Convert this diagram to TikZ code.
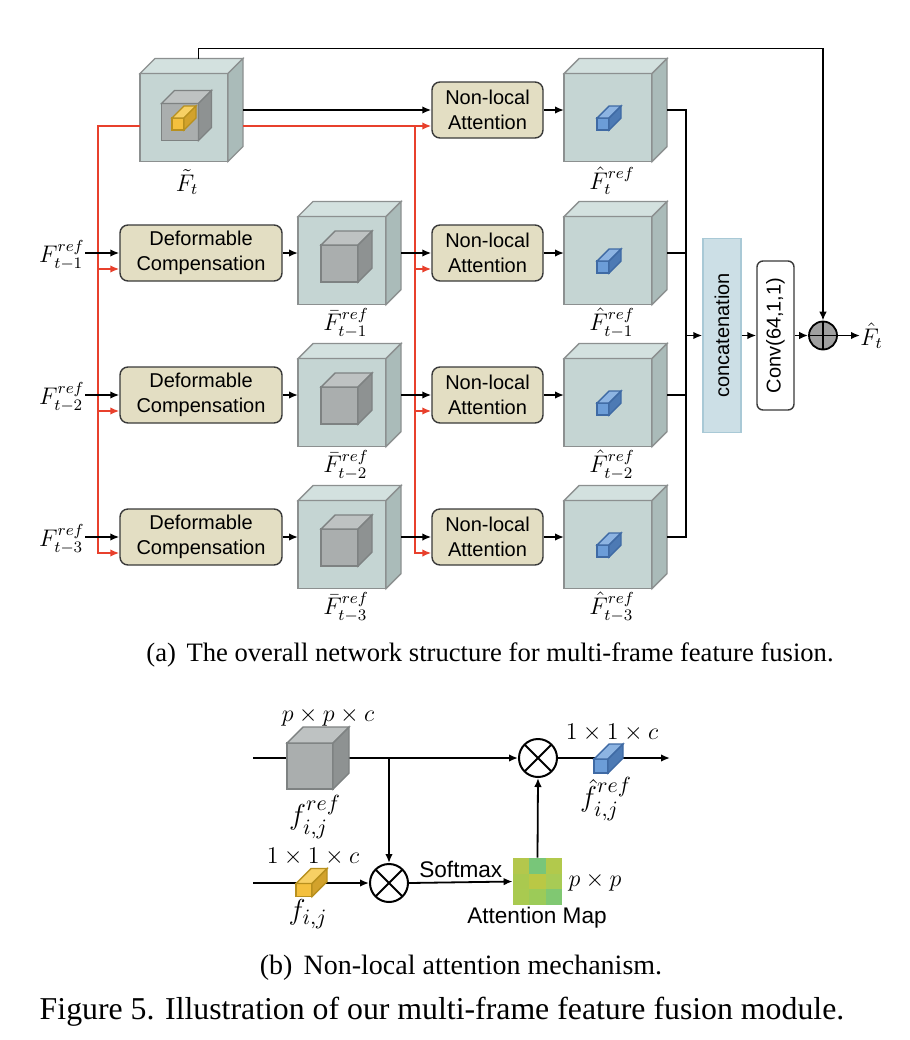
\documentclass[tikz,border=0pt]{standalone}
\usepackage{amsmath}
\usepackage{amssymb}
\usepackage{fontspec}
\setmainfont{Liberation Serif}
\setsansfont{Liberation Sans}
\usetikzlibrary{positioning, arrows.meta, calc}

\definecolor{boxfill}{HTML}{E3DEC3}
\definecolor{boxline}{HTML}{3A3A3A}
\definecolor{redline}{HTML}{E8402C}
\definecolor{cubefront}{HTML}{C5D5D3}
\definecolor{cubetop}{HTML}{D3E1DF}
\definecolor{cubeside}{HTML}{AABBB9}
\definecolor{cubeline}{HTML}{8C9090}
\definecolor{grayfront}{HTML}{AAAEAE}
\definecolor{graytop}{HTML}{BEC2C2}
\definecolor{grayside}{HTML}{8E9292}
\definecolor{grayline}{HTML}{7E8282}
\definecolor{yellowfront}{HTML}{F4C03E}
\definecolor{yellowtop}{HTML}{F7D064}
\definecolor{yellowside}{HTML}{D2A22C}
\definecolor{yellowline}{HTML}{B8901E}
\definecolor{bluefront}{HTML}{6C9DD8}
\definecolor{bluetop}{HTML}{8DB4E2}
\definecolor{blueside}{HTML}{4D7AB4}
\definecolor{blueline}{HTML}{3F6AA4}
\definecolor{catfill}{HTML}{CCDFE6}
\definecolor{catline}{HTML}{A9C9D6}
\definecolor{sumfill}{HTML}{A0A0A0}

% feature cube: name, centre, front width, front height, depth, colour family
\newcommand{\featcube}[6]{%
  \node[minimum width={(#3+#5)*0.5pt}, minimum height={(#4+#5)*0.5pt}, inner sep=0pt, outer sep=0pt] (#1) at #2 {};
  \draw[draw=#6line, line width=0.7pt, fill=#6front] (#1.south west) rectangle ++(#3,-#4);
  \draw[draw=#6line, line width=0.7pt, fill=#6top] ($(#1.south west)+(0,-#4)$) -- ++(#5,-#5) -- ++(#3,0) -- ++(-#5,#5) -- cycle;
  \draw[draw=#6line, line width=0.7pt, fill=#6side] ($(#1.south west)+(#3,0)$) -- ++(#5,-#5) -- ++(0,-#4) -- ++(-#5,#5) -- cycle;
}

\tikzset{
  unit/.style={draw=boxline, fill=boxfill, line width=0.7pt, rounded corners=4pt, align=center, inner sep=0pt,
    font=\sffamily\fontsize{10}{12.5}\selectfont},
  dcbox/.style={unit, minimum width=81pt, minimum height=28pt},
  nlbox/.style={unit, minimum width=55.5pt, minimum height=28pt},
  flow/.style={-{Latex[length=4.5pt,width=3.8pt]}, line width=0.9pt},
  plain/.style={line width=0.9pt},
  redflow/.style={flow, draw=redline},
  mathlbl/.style={font=\fontsize{11.5}{13}\selectfont, inner sep=0pt},
  mathlblb/.style={font=\fontsize{11.5}{13}\selectfont, inner sep=1pt},
  fname/.style={font=\fontsize{15}{17}\selectfont, inner sep=0pt},
  sanslbl/.style={font=\sffamily\fontsize{11.3}{13}\selectfont, inner sep=1pt},
  otimes/.style={circle, draw, line width=1pt, minimum size=19pt, inner sep=0pt,
    path picture={\draw[line width=1pt] (path picture bounding box.north west) -- (path picture bounding box.south east)
      (path picture bounding box.north east) -- (path picture bounding box.south west);}},
  oplus/.style={circle, draw, fill=sumfill, line width=0.9pt, minimum size=14pt, inner sep=0pt,
    path picture={\draw[line width=0.9pt] (path picture bounding box.north) -- (path picture bounding box.south)
      (path picture bounding box.west) -- (path picture bounding box.east);}},
}

\begin{document}
\begin{tikzpicture}[x=0.5pt, y=-0.5pt]

    \fill[white] (0,0) rectangle (910,1040);
    \useasboundingbox (0,0) rectangle (910,1040);

    % Target frame feature
    \featcube{Ft}{(191.5,110)}{88}{88}{15}{cube}
    \featcube{Fti}{(186.5,115.5)}{37}{37}{13}{gray}
    \featcube{Ftq}{(184,118)}{12}{12}{12}{yellow}
    \node[mathlbl] (lFt) at (187,182) {$\tilde{F}_t$};

    % Aligned reference features
    \featcube{Fb1}{(349.5,253)}{88}{88}{15}{cube}
    \featcube{Fb1i}{(346.5,256.5)}{37}{37}{14}{gray}
    \node[mathlbl] (lFb1) at (346,323) {$\bar{F}^{ref}_{t-1}$};
    \featcube{Fb2}{(349.5,395)}{88}{88}{15}{cube}
    \featcube{Fb2i}{(346.5,398.5)}{37}{37}{14}{gray}
    \node[mathlbl] (lFb2) at (346,465) {$\bar{F}^{ref}_{t-2}$};
    \featcube{Fb3}{(349.5,537)}{88}{88}{15}{cube}
    \featcube{Fb3i}{(346.5,540.5)}{37}{37}{14}{gray}
    \node[mathlbl] (lFb3) at (346,607) {$\bar{F}^{ref}_{t-3}$};

    % Attended features
    \featcube{Fh0}{(615.5,110)}{88}{88}{15}{cube}
    \featcube{Fh0q}{(609,118)}{12}{12}{12}{blue}
    \node[mathlbl] (lFh0) at (612,181) {$\hat{F}^{ref}_{t}$};
    \featcube{Fh1}{(615.5,253)}{88}{88}{15}{cube}
    \featcube{Fh1q}{(609,261)}{12}{12}{12}{blue}
    \node[mathlbl] (lFh1) at (612,323) {$\hat{F}^{ref}_{t-1}$};
    \featcube{Fh2}{(615.5,395)}{88}{88}{15}{cube}
    \featcube{Fh2q}{(609,403)}{12}{12}{12}{blue}
    \node[mathlbl] (lFh2) at (612,465) {$\hat{F}^{ref}_{t-2}$};
    \featcube{Fh3}{(615.5,537)}{88}{88}{15}{cube}
    \featcube{Fh3q}{(609,545)}{12}{12}{12}{blue}
    \node[mathlbl] (lFh3) at (612,607) {$\hat{F}^{ref}_{t-3}$};

    % Inputs
    \node[mathlbl, anchor=east] (in1) at (85,255) {$F^{ref}_{t-1}$};
    \node[mathlbl, anchor=east] (in2) at (85,397) {$F^{ref}_{t-2}$};
    \node[mathlbl, anchor=east] (in3) at (85,539) {$F^{ref}_{t-3}$};

    % Blocks
    \node[dcbox] (dc1) at (201,253) {Deformable\\Compensation};
    \node[dcbox] (dc2) at (201,395) {Deformable\\Compensation};
    \node[dcbox] (dc3) at (201,537) {Deformable\\Compensation};
    \node[nlbox] (nl0) at (487.5,110) {Non-local\\Attention};
    \node[nlbox] (nl1) at (487.5,253) {Non-local\\Attention};
    \node[nlbox] (nl2) at (487.5,395) {Non-local\\Attention};
    \node[nlbox] (nl3) at (487.5,537) {Non-local\\Attention};

    \node[draw=catline, fill=catfill, line width=0.7pt, minimum width=19pt, minimum height=97pt, inner sep=0pt,
      font=\sffamily\fontsize{10}{12}\selectfont] (cat) at (722,335.5) {\rotatebox{90}{concatenation}};
    \node[draw=boxline, fill=white, line width=0.7pt, rounded corners=3pt, minimum width=18.5pt, minimum height=74.5pt,
      inner sep=0pt, font=\sffamily\fontsize{10}{12}\selectfont] (conv) at (775.5,335.5) {\rotatebox{90}{Conv(64,1,1)}};
    \node[oplus] (sum) at (823,335.5) {};
    \node[mathlbl, anchor=west] (out) at (860,335.5) {$\hat{F}_t$};

    % Target feature sent to every branch (red)
    \coordinate (lbus) at (98,126);
    \coordinate (rbus) at (415,126);
    \coordinate (dc1r) at ($(dc1.west)+(0,16)$);
    \coordinate (dc2r) at ($(dc2.west)+(0,16)$);
    \coordinate (dc3r) at ($(dc3.west)+(0,16)$);
    \coordinate (nl0r) at ($(nl0.west)+(0,16)$);
    \coordinate (nl1r) at ($(nl1.west)+(0,16)$);
    \coordinate (nl2r) at ($(nl2.west)+(0,16)$);
    \coordinate (nl3r) at ($(nl3.west)+(0,16)$);
    \draw[redflow] ($(Ft.west)+(0,16)$) -- (lbus) |- (dc3r);
    \draw[redflow] (lbus |- dc1r) -- (dc1r);
    \draw[redflow] (lbus |- dc2r) -- (dc2r);
    \draw[redflow] ($(Ft.east)+(0,16)$) -- (nl0r);
    \draw[redflow] (rbus) |- (nl3r);
    \draw[redflow] (rbus |- nl1r) -- (nl1r);
    \draw[redflow] (rbus |- nl2r) -- (nl2r);

    % Main flow
    \draw[flow] (dc1.west -| in1.east) -- (dc1.west);
    \draw[flow] (dc2.west -| in2.east) -- (dc2.west);
    \draw[flow] (dc3.west -| in3.east) -- (dc3.west);
    \draw[flow] (dc1.east) -- (Fb1.west);
    \draw[flow] (dc2.east) -- (Fb2.west);
    \draw[flow] (dc3.east) -- (Fb3.west);
    \draw[flow] (Ft.east) -- (nl0.west);
    \draw[flow] (Fb1.east) -- (nl1.west);
    \draw[flow] (Fb2.east) -- (nl2.west);
    \draw[flow] (Fb3.east) -- (nl3.west);
    \draw[flow] (nl0.east) -- (Fh0.west);
    \draw[flow] (nl1.east) -- (Fh1.west);
    \draw[flow] (nl2.east) -- (Fh2.west);
    \draw[flow] (nl3.east) -- (Fh3.west);

    % Fusion
    \coordinate (obus) at (686,110);
    \draw[plain] (Fh0.east) -- (obus) -- (obus |- Fh3.east) -- (Fh3.east);
    \draw[plain] (Fh1.east) -- (obus |- Fh1.east);
    \draw[plain] (Fh2.east) -- (obus |- Fh2.east);
    \draw[flow] (obus |- cat.west) -- (cat.west);
    \draw[flow] (cat.east) -- (conv.west);
    \draw[flow] (conv.east) -- (sum.west);
    \draw[flow] (sum.east) -- (out.west);
    \draw[flow] ($(Ft.north)+(7,0)$) -- ++(0,-10) -| (sum.north);

    \node[font=\fontsize{13.3}{16}\selectfont, inner sep=0pt] (capa) at (490,655)
      {(a)\hspace{0.4em}The overall network structure for multi-frame feature fusion.};

    % Non-local attention
    \coordinate (bin1) at (253,758);
    \coordinate (bin2) at (253,883);
    \coordinate (bout) at (670,758);
    \coordinate (split) at (389,758);
    \node[otimes] (m1) at (538,758) {};
    \node[otimes] (m2) at (389,883) {};
    \node[minimum width=24.5pt, minimum height=23.5pt, inner sep=0pt] (amap) at (537.5,881.5) {};
    \fill[fill={rgb,255:red,180;green,199;blue,76}] (513,858) rectangle ++(16.33,15.67);
    \fill[fill={rgb,255:red,120;green,198;blue,121}] (529.33,858) rectangle ++(16.33,15.67);
    \fill[fill={rgb,255:red,178;green,201;blue,76}] (545.67,858) rectangle ++(16.33,15.67);
    \fill[fill={rgb,255:red,170;green,201;blue,79}] (513,873.67) rectangle ++(16.33,15.67);
    \fill[fill={rgb,255:red,186;green,200;blue,69}] (529.33,873.67) rectangle ++(16.33,15.67);
    \fill[fill={rgb,255:red,168;green,203;blue,85}] (545.67,873.67) rectangle ++(16.33,15.67);
    \fill[fill={rgb,255:red,169;green,202;blue,80}] (513,889.33) rectangle ++(16.33,15.67);
    \fill[fill={rgb,255:red,156;green,203;blue,88}] (529.33,889.33) rectangle ++(16.33,15.67);
    \fill[fill={rgb,255:red,128;green,200;blue,114}] (545.67,889.33) rectangle ++(16.33,15.67);

    \draw[flow] (bin1) -- (m1.west);
    \draw[flow] (m1.east) -- (bout);
    \draw[flow] (split) -- (m2.north);
    \draw[flow] (bin2) -- (m2.west);
    \draw[flow] (m2.east) -- (amap.west) node[sanslbl, midway, above, yshift=1pt] (smax) {Softmax};
    \draw[flow] (amap.north) -- (m1.south);

    \featcube{fP}{(318,758)}{46}{46}{16}{gray}
    \featcube{fQ}{(311.5,882.5)}{16}{13}{15}{yellow}
    \featcube{fR}{(608.5,758.5)}{14}{14}{15}{blue}

    \node[mathlblb] (dimP) at (328,717) {$p\times p\times c$};
    \node[fname] (lfP) at (315,817) {$f^{ref}_{i,j}$};
    \node[mathlblb] (dimQ) at (313,857) {$1\times 1\times c$};
    \node[fname] (lfQ) at (308,914) {$f_{i,j}$};
    \node[mathlblb] (dimR) at (612,733) {$1\times 1\times c$};
    \node[fname] (lfR) at (606,799) {$\hat{f}^{ref}_{i,j}$};
    \node[mathlblb] (dimA) at (595,882) {$p\times p$};
    \node[sanslbl] (lA) at (537,918) {Attention Map};

    \node[font=\fontsize{14}{16}\selectfont, inner sep=0pt] (capb) at (461,968)
      {(b)\hspace{0.4em}Non-local attention mechanism.};
    \node[font=\fontsize{15.9}{18}\selectfont, inner sep=0pt] (capfig) at (442,1012)
      {Figure 5. Illustration of our multi-frame feature fusion module.};

\end{tikzpicture}
\end{document}
